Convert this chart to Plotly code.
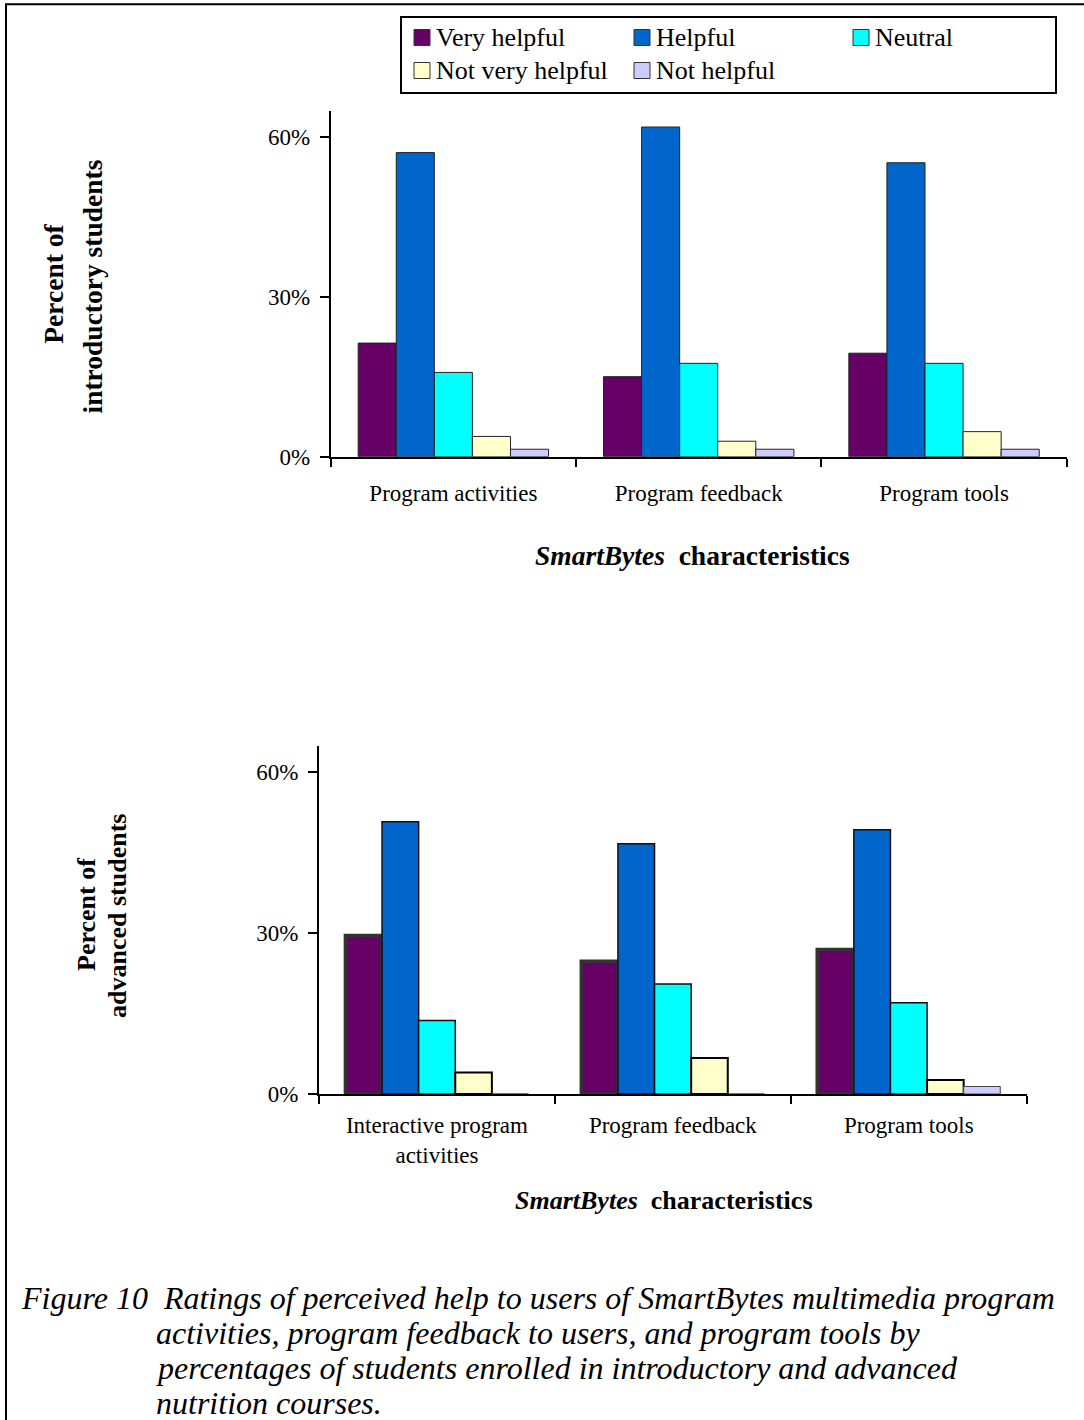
import plotly.graph_objects as go

W, H = 1084, 1420
FONT = "Liberation Serif, Times New Roman, serif"

# Rating categories and their fill colours
ratings = ["Very helpful", "Helpful", "Neutral", "Not very helpful", "Not helpful"]
colors = ["#660066", "#0066CC", "#00FFFF", "#FFFFCC", "#CCCCFF"]

# Introductory course ratings (percent of students)
intro_cats = ["Program activities", "Program feedback", "Program tools"]
intro_very_helpful = [21.3, 15.0, 19.4]
intro_helpful = [57.0, 61.8, 55.1]
intro_neutral = [15.8, 17.5, 17.5]
intro_not_very = [3.8, 2.9, 4.7]
intro_not_helpful = [1.4, 1.4, 1.4]

# Advanced course ratings (percent of students)
adv_cats = ["Interactive program<br>activities", "Program feedback", "Program tools"]
adv_very_helpful = [29.5, 24.7, 26.9]
adv_helpful = [50.7, 46.6, 49.2]
adv_neutral = [13.7, 20.5, 17.0]
adv_not_very = [4.0, 6.7, 2.6]
adv_not_helpful = [0, 0, 1.4]

y_ticks = [0, 30, 60]
y_tick_text = ["0%", "30%", "60%"]

intro_series = [intro_very_helpful, intro_helpful, intro_neutral, intro_not_very, intro_not_helpful]
adv_series = [adv_very_helpful, adv_helpful, adv_neutral, adv_not_very, adv_not_helpful]


def px_x(p):
    return p / W


def px_y(p):
    return 1 - p / H


fig = go.Figure()

for name, col, vals in zip(ratings, colors, intro_series):
    fig.add_trace(go.Bar(
        x=intro_cats, y=vals, name=name, showlegend=False,
        marker=dict(color=col, line=dict(color="#222222", width=1)),
        xaxis="x", yaxis="y", hoverinfo="skip",
    ))

adv_lines = [("#333333", 3.5), ("#111111", 1.5), ("#111111", 1.5), ("#000000", 2), ("#444444", 1)]
for name, col, vals, (lc, lw) in zip(ratings, colors, adv_series, adv_lines):
    fig.add_trace(go.Bar(
        x=adv_cats, y=vals, name=name, showlegend=False,
        marker=dict(color=col, line=dict(color=lc, width=lw)),
        xaxis="x2", yaxis="y2", hoverinfo="skip",
    ))

xaxis_common = dict(
    type="category", showline=True, linecolor="black", linewidth=2,
    ticks="outside", tickson="boundaries", ticklen=8, tickwidth=2, tickcolor="black",
    tickfont=dict(family=FONT, size=23, color="black"), showgrid=False,
    fixedrange=True, automargin=False,
)
yaxis_common = dict(
    range=[0, 64.8], showline=True, linecolor="black", linewidth=2,
    ticks="outside", ticklen=9, tickwidth=2, tickcolor="black",
    tickvals=y_ticks, ticktext=y_tick_text, ticklabelstandoff=5,
    tickfont=dict(family=FONT, size=23, color="black"),
    showgrid=False, zeroline=False, fixedrange=True, automargin=False,
)

fig.update_layout(
    width=W, height=H,
    margin=dict(l=0, r=0, t=0, b=0, autoexpand=False),
    paper_bgcolor="white", plot_bgcolor="white",
    barmode="group", bargap=0.224, bargroupgap=0,
    font=dict(family=FONT, color="black"),
    xaxis=dict(domain=[px_x(330.7), px_x(1066.7)], anchor="y", ticklabelstandoff=15, **xaxis_common),
    yaxis=dict(domain=[px_y(456.7), px_y(111)], anchor="x", **yaxis_common),
    xaxis2=dict(domain=[px_x(319), px_x(1026.7)], anchor="y2", ticklabelstandoff=9, **xaxis_common),
    yaxis2=dict(domain=[px_y(1094), px_y(746)], anchor="x2", **yaxis_common),
)

shapes = []
annotations = []

# Outer page frame
shapes.append(dict(type="rect", xref="paper", yref="paper",
                   x0=px_x(6), x1=px_x(1110), y0=px_y(1450), y1=px_y(4.2),
                   line=dict(color="black", width=2), fillcolor="rgba(0,0,0,0)"))

# Legend box with swatches
shapes.append(dict(type="rect", xref="paper", yref="paper",
                   x0=px_x(401), x1=px_x(1056), y0=px_y(93), y1=px_y(17),
                   line=dict(color="black", width=2), fillcolor="white"))
legend_pos = [(414, 37.5), (634, 37.5), (853, 37.5), (414, 70.5), (634, 70.5)]
for name, col, (lx, ly) in zip(ratings, colors, legend_pos):
    shapes.append(dict(type="rect", xref="paper", yref="paper",
                       x0=px_x(lx), x1=px_x(lx + 16), y0=px_y(ly + 8), y1=px_y(ly - 8),
                       line=dict(color="#333333", width=1), fillcolor=col))
    annotations.append(dict(xref="paper", yref="paper", x=px_x(lx + 20), y=px_y(ly),
                            text=name, showarrow=False, xanchor="left", yanchor="middle",
                            font=dict(family=FONT, size=26, color="black")))

# Axis titles
title_text = "<b><i>SmartBytes</i></b>\u00a0\u00a0<b>characteristics</b>"
annotations.append(dict(xref="paper", yref="paper", x=px_x(693), y=px_y(556),
                        text=title_text, showarrow=False, xanchor="center", yanchor="middle",
                        font=dict(family=FONT, size=27.5, color="black")))
annotations.append(dict(xref="paper", yref="paper", x=px_x(663.5), y=px_y(1200),
                        text=title_text, showarrow=False, xanchor="center", yanchor="middle",
                        font=dict(family=FONT, size=26, color="black")))

for txt, cx, cy, size in [("Percent of", 53.7, 284, 27.5),
                          ("introductory students", 92, 286.5, 27.5),
                          ("Percent of", 86, 915, 26),
                          ("advanced students", 117, 916, 26)]:
    annotations.append(dict(xref="paper", yref="paper", x=px_x(cx), y=px_y(cy),
                            text="<b>" + txt + "</b>", textangle=-90, showarrow=False,
                            xanchor="center", yanchor="middle",
                            font=dict(family=FONT, size=size, color="black")))

# Figure caption
caption_lines = [
    ("Figure 10\u00a0\u00a0Ratings of perceived help to users of SmartBytes multimedia program", 19, 1298),
    ("activities, program feedback to users, and program tools by", 154, 1333),
    ("percentages of students enrolled in introductory and advanced", 154, 1368),
    ("nutrition courses.", 154, 1403),
]
for txt, lx, ly in caption_lines:
    annotations.append(dict(xref="paper", yref="paper", x=px_x(lx), y=px_y(ly),
                            text="<i>" + txt + "</i>", showarrow=False,
                            xanchor="left", yanchor="middle",
                            font=dict(family=FONT, size=32, color="black")))

fig.update_layout(shapes=shapes, annotations=annotations)

fig.write_html("out.html")
